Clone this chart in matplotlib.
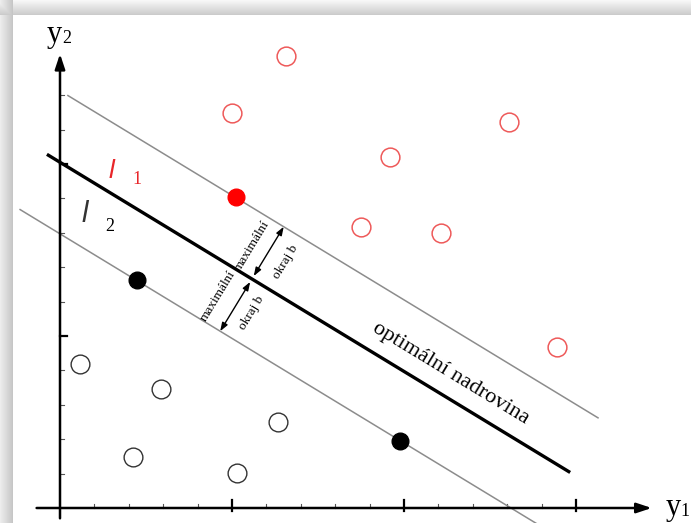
import numpy as np
import matplotlib
matplotlib.use("Agg")
import matplotlib.pyplot as plt

# ---------------- data ----------------
red_open_x = [6.57, 5.00, 13.05, 9.59, 8.75, 11.08, 14.45]
red_open_y = [13.14, 11.48, 11.22, 10.20, 8.17, 7.99, 4.68]
red_fill_x = [5.12]
red_fill_y = [9.04]
blk_open_x = [0.58, 2.94, 6.34, 2.12, 5.15]
blk_open_y = [4.19, 3.46, 2.50, 1.48, 1.02]
blk_fill_x = [2.24, 9.88]
blk_fill_y = [6.63, 1.95]

slope = -0.608
line_names = ["upper", "main", "lower"]
line_intercepts = [12.13, 10.05, 7.97]
line_x_start = [0.23, -0.38, -1.16]
line_x_end = [15.64, 14.83, 17.0]

x_major_ticks = [5, 10, 15]
x_minor_ticks = [1, 2, 3, 4, 6, 7, 8, 9, 11, 12, 13, 14]
y_major_ticks = [5, 10]
y_minor_ticks = [1, 2, 3, 4, 6, 7, 8, 9, 11, 12]

# ---------------- figure ----------------
W, H = 691, 523
fig = plt.figure(figsize=(W / 100, H / 100), dpi=100)

# background frame with shadow
bg = fig.add_axes([0, 0, 1, 1])
img = np.ones((H, W, 3))
for i in range(13):
    v = 0.93 - 0.15 * i / 12
    img[:, i, :] = v
for j in range(15):
    v = 0.97 - 0.17 * j / 14
    img[j, :, :] = np.minimum(img[j, :, :], v)
bg.imshow(img, aspect="auto", extent=[0, W, H, 0], interpolation="bilinear")
bg.set_axis_off()

ax = fig.add_axes([0, 0, 1, 1])
ax.patch.set_alpha(0)
u = 34.4
x0, y0 = 60, 508
ax.set_xlim(-x0 / u, (W - x0) / u)
ax.set_ylim(-(H - y0) / u, y0 / u)
ax.set_axis_off()


def px2d(px, py):
    return (px - x0) / u, (y0 - py) / u


# axes with arrows
ax.annotate("", xy=(17.2, 0), xytext=(-0.68, 0),
            arrowprops=dict(arrowstyle="-|>,head_length=0.9,head_width=0.3",
                            lw=1.8, color="black", shrinkA=0, shrinkB=0))
ax.annotate("", xy=(0, 13.2), xytext=(0, -0.3),
            arrowprops=dict(arrowstyle="-|>,head_length=0.9,head_width=0.3",
                            lw=1.8, color="black", shrinkA=0, shrinkB=0))

for t in x_major_ticks:
    ax.plot([t, t], [-0.1, 0.22], color="black", lw=1.6)
for t in x_minor_ticks:
    ax.plot([t, t], [0, 0.12], color="#555555", lw=0.8)
for t in y_major_ticks:
    ax.plot([0, 0.2], [t, t], color="black", lw=1.6)
for t in y_minor_ticks:
    ax.plot([0, 0.12], [t, t], color="#555555", lw=0.8)

for (px, py), s, fs in [((54, 34), "y", 22), ((67, 38), "2", 13),
                        ((673, 508), "y", 22), ((685, 512), "1", 13)]:
    xd, yd = px2d(px, py)
    ax.text(xd, yd, s, fontsize=fs, family="Liberation Serif", ha="center", va="center")

# lines
for name, b, xs, xe in zip(line_names, line_intercepts, line_x_start, line_x_end):
    xx = np.array([xs, xe])
    if name == "main":
        ax.plot(xx, b + slope * xx, color="black", lw=2.4, solid_capstyle="butt")
    else:
        ax.plot(xx, b + slope * xx, color="#8c8c8c", lw=1.1)

# points
ms = 13.5
ax.plot(red_open_x, red_open_y, "o", ms=ms, mfc="none", mec="#ee5a5a", mew=1.1)
ax.plot(red_fill_x, red_fill_y, "o", ms=12, mfc="#ff0000", mec="#ff0000")
ax.plot(blk_open_x, blk_open_y, "o", ms=ms, mfc="none", mec="#333333", mew=1.0)
ax.plot(blk_fill_x, blk_fill_y, "o", ms=12, mfc="black", mec="black")

# margin arrows
b_main = line_intercepts[1]
fx = 5.58
fy = b_main + slope * fx
n = np.array([-slope, 1.0]) / np.hypot(slope, 1.0)
d = (line_intercepts[0] - b_main) / np.hypot(slope, 1.0)
ast = "<|-|>,head_length=0.5,head_width=0.18"
ax.annotate("", xy=(fx + n[0] * d, fy + n[1] * d), xytext=(fx + n[0] * 0.1, fy + n[1] * 0.1),
            arrowprops=dict(arrowstyle=ast, lw=1.0, color="black", shrinkA=0, shrinkB=0))
ax.annotate("", xy=(fx - n[0] * d, fy - n[1] * d), xytext=(fx - n[0] * 0.1, fy - n[1] * 0.1),
            arrowprops=dict(arrowstyle=ast, lw=1.0, color="black", shrinkA=0, shrinkB=0))

rot = np.degrees(np.arctan2(n[1], n[0]))
for (px, py), s in [((252, 246), "maximální"), ((286, 262), "okraj b"),
                    ((218, 296), "maximální"), ((252, 313), "okraj b")]:
    xd, yd = px2d(px, py)
    ax.text(xd, yd, s, fontsize=9.5, family="Liberation Serif", rotation=rot,
            rotation_mode="anchor", ha="center", va="center")

xd, yd = px2d(451, 374)
ax.text(xd, yd, "optimální nadrovina", fontsize=16, family="Liberation Serif",
        rotation=np.degrees(np.arctan(slope)), rotation_mode="anchor",
        ha="center", va="center")

# l1, l2 labels
for (px, py), s, fs, col, sty, fam in [
        ((112, 171), "l", 19, "#e8262a", "italic", "Liberation Sans"),
        ((137, 179), "1", 13, "#e8262a", "normal", "Liberation Serif"),
        ((85, 214), "l", 21, "#333333", "italic", "Liberation Sans"),
        ((110, 226), "2", 13, "black", "normal", "Liberation Serif")]:
    xd, yd = px2d(px, py)
    ax.text(xd, yd, s, fontsize=fs, family=fam, style=sty, color=col,
            ha="center", va="center")

fig.savefig("out.png", dpi=100)
